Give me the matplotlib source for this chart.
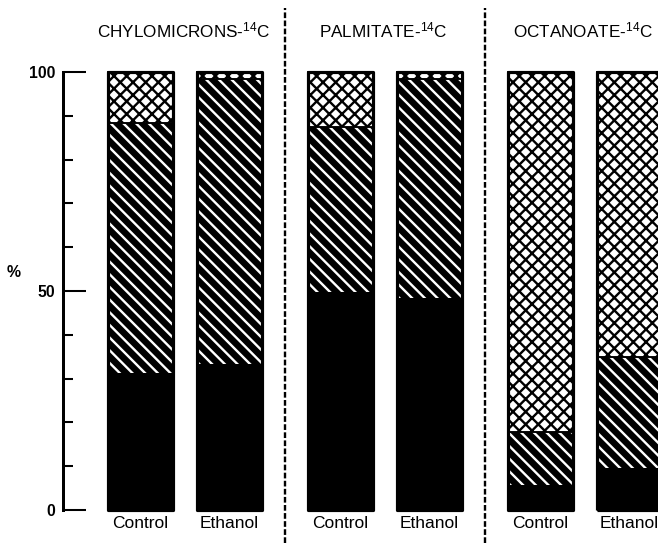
# =========================================================
# BARRAS APILADAS: DISTRIBUCIÓN DE LA MARCA 14C (%)
# =========================================================

import numpy as np
import matplotlib
matplotlib.use("Agg")
import matplotlib.pyplot as plt

# =========================================================
# DATOS
# =========================================================

grupos = ["CHYLOMICRONS-$^{14}$C", "PALMITATE-$^{14}$C", "OCTANOATE-$^{14}$C"]

tratamientos = ["Control", "Ethanol"]

# orden: chylo control, chylo ethanol, palm control, palm ethanol, oct control, oct ethanol
negro = [31.2, 33.3, 49.8, 48.3, 5.7, 9.5]
rayado = [57.2, 65.1, 37.7, 50.1, 12.2, 25.5]
cuadriculado = [11.6, 1.6, 12.5, 1.6, 82.1, 65.0]

# =========================================================
# ESTILO
# =========================================================

DPI = 114
plt.rcParams['font.family'] = ['Liberation Sans', 'DejaVu Sans']
plt.rcParams['mathtext.fontset'] = 'custom'
plt.rcParams['mathtext.rm'] = 'Liberation Sans'
plt.rcParams['mathtext.default'] = 'regular'
plt.rcParams['hatch.linewidth'] = 1.5

fig = plt.figure(figsize=(658 / DPI, 543 / DPI), dpi=DPI)
ax = fig.add_axes([63 / 658, 33 / 543, 1 - 63 / 658, 438 / 543])

# =========================================================
# POSICIONES
# =========================================================

paso_grupo = 2.245
posiciones = np.array([g * paso_grupo + j for g in range(len(grupos)) for j in range(len(tratamientos))])
ancho = 0.73

negro = np.array(negro)
rayado = np.array(rayado)
cuadriculado = np.array(cuadriculado)

# =========================================================
# BARRAS
# =========================================================

ax.bar(posiciones, negro, ancho, color='black', linewidth=0, clip_on=False)

ax.bar(posiciones, rayado, ancho, bottom=negro, facecolor='black',
       edgecolor='white', hatch='\\\\\\', linewidth=0, clip_on=False)

ax.bar(posiciones, cuadriculado, ancho, bottom=negro + rayado, facecolor='white',
       edgecolor='black', hatch='xxx', linewidth=1.2, clip_on=False)

ax.bar(posiciones, negro + rayado + cuadriculado, ancho, fill=False,
       edgecolor='black', linewidth=2, joinstyle='round', clip_on=False)

# =========================================================
# SEPARADORES DISCONTINUOS
# =========================================================

for g in range(1, len(grupos)):
    xs = (posiciones[2 * g - 1] + posiciones[2 * g]) / 2
    ax.plot([xs, xs], [-7.6, 114.6], color='black', linewidth=1.5,
            dashes=(2.4, 1.0), clip_on=False)

# =========================================================
# TÍTULOS DE GRUPO
# =========================================================

for g, nombre in enumerate(grupos):
    xc = (posiciones[2 * g] + posiciones[2 * g + 1]) / 2
    ax.text(xc - 0.02, 109.6, nombre, ha='center', va='center', fontsize=10.8)

# =========================================================
# EJES
# =========================================================

ax.set_xlim(-0.871, 5.815)
ax.set_ylim(0, 100)

for lado in ['top', 'right', 'bottom']:
    ax.spines[lado].set_visible(False)
ax.spines['left'].set_linewidth(1.9)

ax.set_yticks([0, 50, 100])
ax.set_yticklabels(['0', '50', '100'], fontweight='bold', fontsize=10)
ax.set_yticks(np.arange(10, 100, 10), minor=True)
ax.tick_params(axis='y', which='major', direction='in', length=14.5, width=1.3, pad=5)
ax.tick_params(axis='y', which='minor', direction='in', length=6.3, width=1.3)

ax.set_xticks(posiciones)
ax.set_xticklabels(tratamientos * len(grupos), fontsize=11)
ax.tick_params(axis='x', length=0, pad=4)

fig.text(14 / 658, 1 - 272 / 543, '%', fontsize=10, fontweight='bold',
         ha='center', va='center')

# =========================================================
# GUARDAR
# =========================================================

fig.savefig('out.png', dpi=DPI)
